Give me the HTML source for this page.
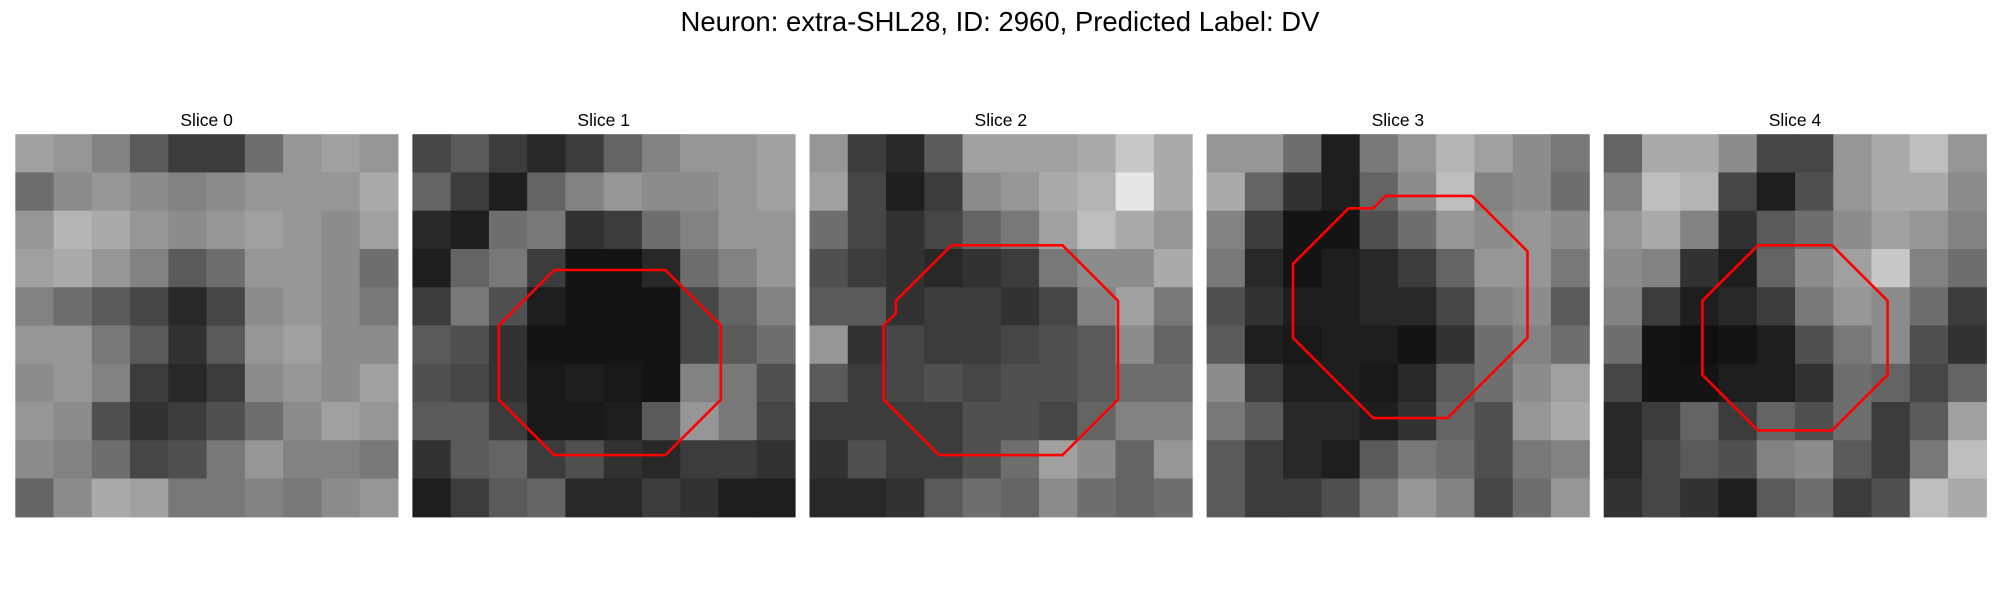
<!DOCTYPE html>
<html><head><meta charset="utf-8">
<style>
html,body{margin:0;padding:0;background:#fff;}
svg{display:block;font-family:"Liberation Sans","DejaVu Sans",sans-serif;}
</style></head>
<body>
<svg id="fig" width="2000" height="600" viewBox="0 0 2000 600">
<text x="1000" y="31" text-anchor="middle" font-size="27.5" fill="#000">Neuron: extra-SHL28, ID: 2960, Predicted Label: DV</text>
</svg>
<script>
// Slice titles
const sliceTitles = ["Slice 0","Slice 1","Slice 2","Slice 3","Slice 4"];
// Coarse 10x10 intensity grids (0-255)
const slice0 = [
[160,150,130,90,60,60,110,150,160,150],
[110,140,150,140,130,140,150,150,150,170],
[150,180,170,150,140,150,160,150,140,160],
[160,170,150,130,90,110,150,150,140,110],
[130,110,90,70,40,70,140,150,140,120],
[150,150,120,90,50,90,150,160,140,140],
[140,150,130,60,40,60,140,150,140,160],
[150,140,80,50,60,80,110,140,160,150],
[140,130,110,70,80,120,150,130,130,120],
[100,140,170,160,120,120,130,120,140,150]];
const slice1 = [
[70,90,60,40,60,100,130,150,150,160],
[100,60,30,100,130,150,140,140,150,160],
[40,30,110,120,50,60,110,130,150,150],
[30,100,120,60,20,20,40,110,130,150],
[60,120,80,30,20,20,20,70,100,130],
[90,80,50,20,20,20,20,70,90,110],
[80,70,50,25,30,25,20,130,120,80],
[90,90,60,25,25,30,90,150,120,70],
[50,90,100,60,80,50,40,60,60,50],
[30,60,90,100,40,40,60,50,30,30]];
const slice2 = [
[150,60,40,90,160,160,160,170,200,170],
[160,70,30,60,140,150,170,180,230,170],
[110,70,50,70,100,120,160,190,170,150],
[80,60,50,40,50,60,120,140,140,170],
[90,90,50,60,60,50,70,130,160,120],
[150,50,70,60,60,70,80,90,140,100],
[90,60,70,80,70,80,80,90,110,110],
[60,60,60,60,80,80,70,100,130,130],
[50,80,60,60,80,110,160,140,100,150],
[40,40,50,90,110,100,140,110,100,110]];
const slice3 = [
[150,150,110,30,120,150,180,160,140,120],
[170,100,50,30,100,140,190,130,140,110],
[130,60,20,20,80,110,150,140,150,140],
[120,40,20,30,40,60,100,150,150,120],
[80,50,30,30,40,40,70,130,140,90],
[90,30,25,30,30,20,50,110,130,110],
[140,60,30,30,25,40,90,110,140,160],
[120,90,40,40,30,50,100,80,150,170],
[90,60,40,30,90,120,110,80,120,130],
[90,60,60,80,120,150,130,70,110,150]];
const slice4 = [
[100,170,170,140,70,70,150,170,190,150],
[130,190,180,70,30,80,150,170,170,140],
[150,170,130,50,90,110,140,160,150,130],
[140,130,50,30,100,140,160,200,130,110],
[130,60,30,40,60,120,150,140,110,60],
[110,20,15,20,30,80,120,140,80,50],
[70,20,20,30,30,50,110,100,70,100],
[40,60,100,60,100,80,110,60,90,160],
[40,70,90,80,130,140,90,60,120,190],
[50,70,50,30,90,110,60,80,190,170]];
// ROI polygons in image pixel units (31x31 image)
const roi1 = [[11.5,11],[20.5,11],[25,15.5],[25,21.5],[20.5,26],[11.5,26],[7,21.5],[7,15.5]];
const roi2 = [[11.5,9],[20.5,9],[25,13.5],[25,21.5],[20.5,26],[10.5,26],[6,21.5],[6,15.5],[7,14.5],[7,13.5]];
const roi3 = [[11.5,6],[13.5,6],[14.5,5],[21.5,5],[26,9.5],[26,16.5],[19.5,23],[13.5,23],[7,16.5],[7,10.5]];
const roi4 = [[12.5,9],[18.5,9],[23,13.5],[23,19.5],[18.5,24],[12.5,24],[8,19.5],[8,13.5]];

const grids = [slice0,slice1,slice2,slice3,slice4];
const rois = [null,roi1,roi2,roi3,roi4];
const NS = "http://www.w3.org/2000/svg";
const svg = document.getElementById("fig");
const panelX0 = 15.3, panelStep = 397.1, panelY = 134.2, panelSize = 382.6, imgN = 31;

function xScale(i, u){ return panelX0 + i*panelStep + u/imgN*panelSize; }
function yScale(v){ return panelY + v/imgN*panelSize; }

grids.forEach((g, i) => {
  const grp = document.createElementNS(NS, "g");
  
  
  svg.appendChild(grp);
  const t = document.createElementNS(NS, "text");
  
  
  t.setAttribute("x", xScale(i, imgN/2));
  t.setAttribute("y", 126);
  t.setAttribute("text-anchor", "middle");
  t.setAttribute("font-size", "17.5");
  t.textContent = sliceTitles[i];
  grp.appendChild(t);
  const rows = g.length, cols = g[0].length;
  g.forEach((row, r) => {
    row.forEach((val, c) => {
      const rc = document.createElementNS(NS, "rect");
      
      
      const u0 = c/cols*imgN, u1 = (c+1)/cols*imgN;
      const v0 = r/rows*imgN, v1 = (r+1)/rows*imgN;
      rc.setAttribute("x", xScale(i,u0));
      rc.setAttribute("y", yScale(v0));
      rc.setAttribute("width", xScale(i,u1)-xScale(i,u0)+0.6);
      rc.setAttribute("height", yScale(v1)-yScale(v0)+0.6);
      const v = Math.round(val);
      rc.setAttribute("fill", "rgb("+v+","+v+","+v+")");
      grp.appendChild(rc);
    });
  });
  const roi = rois[i];
  if (roi) {
    const p = document.createElementNS(NS, "polygon");
    
    
    p.setAttribute("points", roi.map(pt => xScale(i,pt[0]).toFixed(1)+","+yScale(pt[1]).toFixed(1)).join(" "));
    p.setAttribute("fill", "none");
    p.setAttribute("stroke", "#ff0000");
    p.setAttribute("stroke-width", "2.6");
    grp.appendChild(p);
  }
});
</script>
</body></html>
